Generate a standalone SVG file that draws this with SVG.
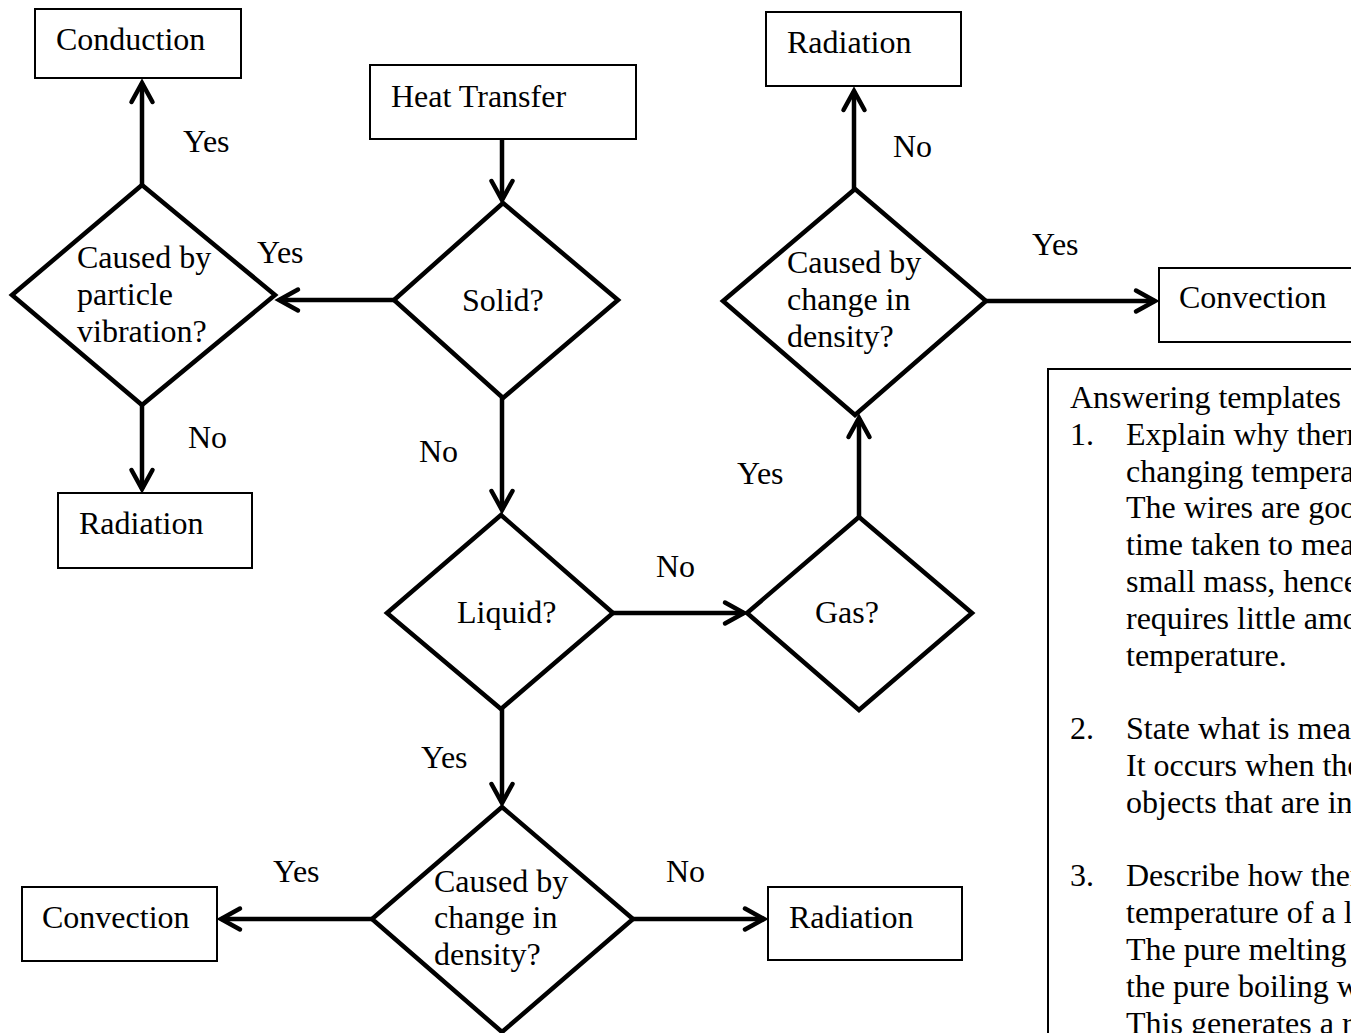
<svg xmlns="http://www.w3.org/2000/svg" width="1351" height="1033" viewBox="0 0 1351 1033">
  <style>
    text { font-family: "Liberation Serif", "Times New Roman", serif; font-size: 32px; fill: #000; }
    .box { fill: #fff; stroke: #000; stroke-width: 2; }
    .dia { fill: #fff; stroke: #000; stroke-width: 4.5; stroke-linejoin: miter; }
    .conn { fill: none; stroke: #000; stroke-width: 4.5; marker-end: url(#head); }
  </style>
  <defs>
    <marker id="head" markerUnits="userSpaceOnUse" orient="auto" refX="0" refY="0" markerWidth="30" markerHeight="30" overflow="visible">
      <path d="M -19 -10.5 L 0 0 L -19 10.5" fill="none" stroke="#000" stroke-width="4.5" stroke-linecap="round" stroke-linejoin="miter"/>
    </marker>
  </defs>
  <rect width="1351" height="1033" fill="#fff"/>

  <!-- connectors -->
  <g id="connectors">
    <line class="conn" x1="502" y1="139" x2="502" y2="200"/>
    <line class="conn" x1="394" y1="300" x2="279" y2="300"/>
    <line class="conn" x1="142" y1="185" x2="142" y2="83"/>
    <line class="conn" x1="142" y1="405" x2="142" y2="489"/>
    <line class="conn" x1="502" y1="398" x2="502" y2="510"/>
    <line class="conn" x1="613" y1="613" x2="744" y2="613"/>
    <line class="conn" x1="859" y1="517" x2="859" y2="418"/>
    <line class="conn" x1="854" y1="189" x2="854" y2="91"/>
    <line class="conn" x1="986" y1="301" x2="1155" y2="301"/>
    <line class="conn" x1="502" y1="709" x2="502" y2="803"/>
    <line class="conn" x1="372" y1="919" x2="221" y2="919"/>
    <line class="conn" x1="633" y1="919" x2="764" y2="919"/>
  </g>

  <!-- edge labels -->
  <g id="labels">
    <text x="183" y="152">Yes</text>
    <text x="257" y="263">Yes</text>
    <text x="188" y="448">No</text>
    <text x="419" y="462">No</text>
    <text x="656" y="577">No</text>
    <text x="737" y="484">Yes</text>
    <text x="893" y="157">No</text>
    <text x="1032" y="255">Yes</text>
    <text x="421" y="768">Yes</text>
    <text x="273" y="882">Yes</text>
    <text x="666" y="882">No</text>
  </g>

  <g id="heat-transfer">
    <rect class="box" x="370" y="65" width="266" height="74"/>
    <text x="391" y="107">Heat Transfer</text>
  </g>

  <g id="conduction">
    <rect class="box" x="35" y="9" width="206" height="69"/>
    <text x="56" y="50">Conduction</text>
  </g>

  <g id="radiation-left">
    <rect class="box" x="58" y="493" width="194" height="75"/>
    <text x="79" y="534">Radiation</text>
  </g>

  <g id="radiation-top">
    <rect class="box" x="766" y="12" width="195" height="74"/>
    <text x="787" y="53">Radiation</text>
  </g>

  <g id="convection-right">
    <rect class="box" x="1159" y="268" width="220" height="74"/>
    <text x="1179" y="308">Convection</text>
  </g>

  <g id="convection-bottom">
    <rect class="box" x="22" y="887" width="195" height="74"/>
    <text x="42" y="928">Convection</text>
  </g>

  <g id="radiation-bottom">
    <rect class="box" x="768" y="887" width="194" height="73"/>
    <text x="789" y="928">Radiation</text>
  </g>

  <g id="particle-vibration">
    <polygon class="dia" points="142,185 275,295 142,405 12,295"/>
    <text x="77" y="268">Caused by</text>
    <text x="77" y="305">particle</text>
    <text x="77" y="342">vibration?</text>
  </g>

  <g id="solid">
    <polygon class="dia" points="503,203 618,300 503,398 394,300"/>
    <text x="462" y="311">Solid?</text>
  </g>

  <g id="liquid">
    <polygon class="dia" points="501,515 613,613 501,709 387,613"/>
    <text x="457" y="623">Liquid?</text>
  </g>

  <g id="gas">
    <polygon class="dia" points="859,517 972,613 859,710 747,613"/>
    <text x="815" y="623">Gas?</text>
  </g>

  <g id="density-top">
    <polygon class="dia" points="855,189 986,301 855,415 723,301"/>
    <text x="787" y="273">Caused by</text>
    <text x="787" y="310">change in</text>
    <text x="787" y="347">density?</text>
  </g>

  <g id="density-bottom">
    <polygon class="dia" points="502,807 633,919 502,1032 372,919"/>
    <text x="434" y="892">Caused by</text>
    <text x="434" y="928">change in</text>
    <text x="434" y="965">density?</text>
  </g>

  <!-- answering templates panel -->
  <g id="answering-templates">
    <rect class="box" x="1048" y="369" width="330" height="680"/>
    <text x="1070" y="408">Answering templates</text>
    <text x="1070" y="445">1.</text>
    <text x="1126" y="445">Explain why therm</text>
    <text x="1126" y="482">changing tempera</text>
    <text x="1126" y="518">The wires are goo</text>
    <text x="1126" y="555">time taken to mea</text>
    <text x="1126" y="592">small mass, hence</text>
    <text x="1126" y="629">requires little amo</text>
    <text x="1126" y="666">temperature.</text>
    <text x="1070" y="739">2.</text>
    <text x="1126" y="739">State what is mea</text>
    <text x="1126" y="776">It occurs when the</text>
    <text x="1126" y="813">objects that are in</text>
    <text x="1070" y="886">3.</text>
    <text x="1126" y="886">Describe how ther</text>
    <text x="1126" y="923">temperature of a l</text>
    <text x="1126" y="960">The pure melting</text>
    <text x="1126" y="997">the pure boiling w</text>
    <text x="1126" y="1034">This generates a r</text>
  </g>
</svg>
